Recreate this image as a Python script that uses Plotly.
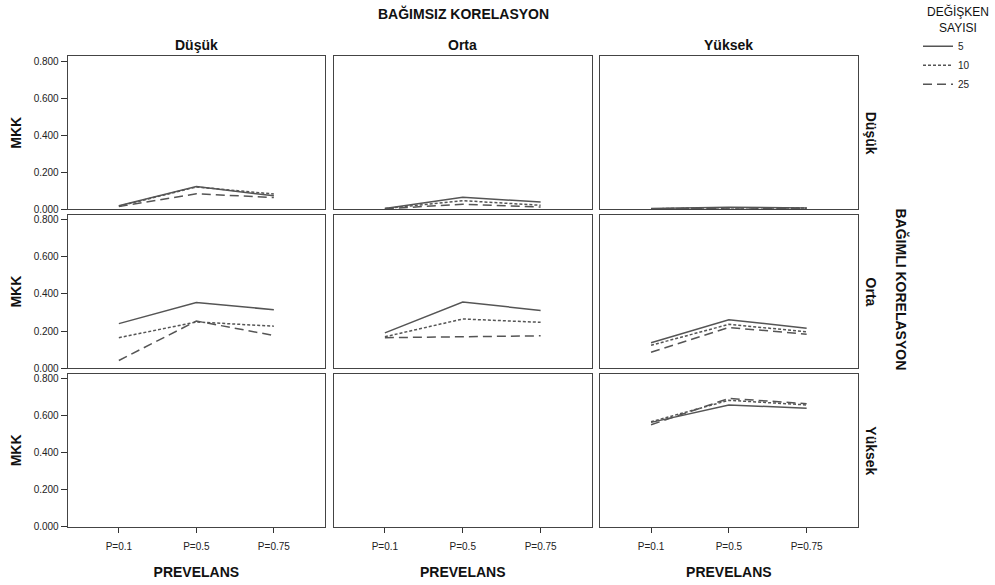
import plotly.graph_objects as go

# ---- data (MKK values) ----
prevalence = ["P=0.1", "P=0.5", "P=0.75"]
n_vars = ["5", "10", "25"]
levels = ["Düşük", "Orta", "Yüksek"]
y_ticks = [0.0, 0.2, 0.4, 0.6, 0.8]
y_tick_text = ["0.000", "0.200", "0.400", "0.600", "0.800"]

# row = BAĞIMLI KORELASYON level, column = BAĞIMSIZ KORELASYON level
mkk_dusuk_dusuk = {"5": [0.018, 0.122, 0.072], "10": [0.016, 0.120, 0.082], "25": [0.014, 0.083, 0.063]}
mkk_dusuk_orta = {"5": [0.004, 0.064, 0.039], "10": [0.003, 0.046, 0.021], "25": [0.002, 0.027, 0.012]}
mkk_dusuk_yuksek = {"5": [0.003, 0.010, 0.007], "10": [0.002, 0.008, 0.006], "25": [0.002, 0.006, 0.005]}
mkk_orta_dusuk = {"5": [0.240, 0.354, 0.315], "10": [0.164, 0.249, 0.226], "25": [0.041, 0.254, 0.176]}
mkk_orta_orta = {"5": [0.190, 0.357, 0.311], "10": [0.169, 0.265, 0.247], "25": [0.164, 0.171, 0.174]}
mkk_orta_yuksek = {"5": [0.137, 0.261, 0.215], "10": [0.123, 0.236, 0.196], "25": [0.085, 0.219, 0.183]}
mkk_yuksek_dusuk = {}
mkk_yuksek_orta = {}
mkk_yuksek_yuksek = {"5": [0.564, 0.658, 0.640], "10": [0.567, 0.683, 0.658], "25": [0.551, 0.693, 0.665]}

panels = [
    [mkk_dusuk_dusuk, mkk_dusuk_orta, mkk_dusuk_yuksek],
    [mkk_orta_dusuk, mkk_orta_orta, mkk_orta_yuksek],
    [mkk_yuksek_dusuk, mkk_yuksek_orta, mkk_yuksek_yuksek],
]

# ---- styling ----
W, H = 995, 585
FONT = "Arial, Liberation Sans, Helvetica, sans-serif"
LINE_COLOR = "#555555"
dash_styles = {"5": "solid", "10": "3px,2px", "25": "9px,5px"}

col_px = [(67.7, 325.0), (333.5, 592.0), (599.7, 858.0)]
row_px = [(56.0, 210.7), (216.7, 371.5), (377.3, 532.3)]

fig = go.Figure()
layout = dict()
for r in range(3):
    for c in range(3):
        idx = r * 3 + c + 1
        xa = "xaxis" if idx == 1 else f"xaxis{idx}"
        ya = "yaxis" if idx == 1 else f"yaxis{idx}"
        xref = "x" if idx == 1 else f"x{idx}"
        yref = "y" if idx == 1 else f"y{idx}"
        x0, x1 = col_px[c]
        y0, y1 = row_px[r]
        bottom = r == 2
        left = c == 0
        layout[xa] = dict(
            domain=[x0 / W, x1 / W], anchor=yref, type="category",
            categoryorder="array", categoryarray=prevalence,
            range=[-0.66, 2.66], showgrid=False, zeroline=False,
            showline=True, mirror=True, linecolor="#444444", linewidth=1,
            ticks="outside" if bottom else "", ticklen=5, tickcolor="#333333",
            showticklabels=bottom, ticklabelstandoff=5,
            tickfont=dict(family=FONT, size=10, color="#222222"),
            title=dict(text="<b>PREVELANS</b>" if bottom else "", font=dict(family=FONT, size=14, color="#111111"), standoff=16),
            fixedrange=True,
        )
        layout[ya] = dict(
            domain=[1 - y1 / H, 1 - y0 / H], anchor=xref,
            range=[0, 0.826], showgrid=False, zeroline=False,
            showline=True, mirror=True, linecolor="#444444", linewidth=1,
            tickvals=y_ticks if left else [], ticktext=y_tick_text if left else [],
            ticks="outside" if left else "", ticklen=6, tickcolor="#333333",
            showticklabels=left, tickfont=dict(family=FONT, size=10, color="#222222"),
            title=dict(text="<b>MKK</b>" if left else "", font=dict(family=FONT, size=14, color="#111111"), standoff=8),
            fixedrange=True,
        )
        data = panels[r][c]
        if not data:
            # empty panel: keep the axes drawn
            fig.add_trace(go.Scatter(
                x=prevalence, y=[None] * len(prevalence), mode="lines",
                xaxis=xref, yaxis=yref, showlegend=False, hoverinfo="skip",
            ))
            continue
        for n in n_vars:
            fig.add_trace(go.Scatter(
                x=prevalence, y=data[n], mode="lines", name=n,
                xaxis=xref, yaxis=yref,
                line=dict(color=LINE_COLOR, width=1.5, dash=dash_styles[n]),
                legendgroup=n, showlegend=(r == 0 and c == 0),
                hoverinfo="skip",
            ))

annotations = []
# overall column header
annotations.append(dict(text="<b>BAĞIMSIZ KORELASYON</b>", x=463 / W, y=1 - 13 / H, xref="paper", yref="paper",
                        showarrow=False, font=dict(family=FONT, size=14, color="#111111"), xanchor="center", yanchor="middle"))
# column titles
for c, lv in enumerate(levels):
    cx = (col_px[c][0] + col_px[c][1]) / 2
    annotations.append(dict(text=f"<b>{lv}</b>", x=cx / W, y=1 - 45 / H, xref="paper", yref="paper",
                            showarrow=False, font=dict(family=FONT, size=14, color="#111111"), xanchor="center", yanchor="middle"))
# row titles
for r, lv in enumerate(levels):
    cy = (row_px[r][0] + row_px[r][1]) / 2
    annotations.append(dict(text=f"<b>{lv}</b>", x=871 / W, y=1 - cy / H, xref="paper", yref="paper",
                            showarrow=False, textangle=90, font=dict(family=FONT, size=14, color="#111111"),
                            xanchor="center", yanchor="middle"))
# overall row header
annotations.append(dict(text="<b>BAĞIMLI KORELASYON</b>", x=901 / W, y=1 - 292 / H, xref="paper", yref="paper",
                        showarrow=False, textangle=90, font=dict(family=FONT, size=14, color="#111111"),
                        xanchor="center", yanchor="middle"))
# legend title
annotations.append(dict(text="DEĞİŞKEN<br>SAYISI", x=958 / W, y=1 - 19 / H, xref="paper", yref="paper",
                        showarrow=False, font=dict(family=FONT, size=12, color="#111111"),
                        xanchor="center", yanchor="middle"))

fig.update_layout(
    width=W, height=H,
    margin=dict(l=0, r=0, t=0, b=0),
    paper_bgcolor="white", plot_bgcolor="white",
    font=dict(family=FONT, size=10, color="#222222"),
    annotations=annotations,
    legend=dict(x=918 / W, y=1 - 31 / H, xanchor="left", yanchor="top",
                font=dict(family=FONT, size=10, color="#222222"),
                bgcolor="rgba(0,0,0,0)", tracegroupgap=0, itemwidth=30),
    showlegend=True,
    **layout,
)

fig.write_html("out.html")
